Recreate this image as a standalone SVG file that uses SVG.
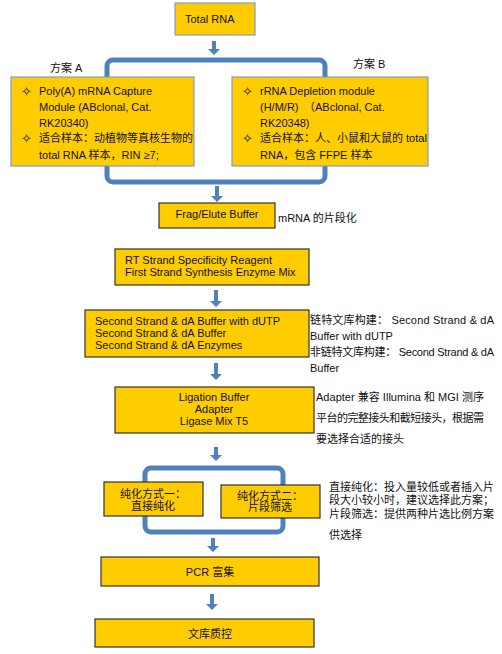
<svg xmlns="http://www.w3.org/2000/svg" width="502" height="654" viewBox="0 0 502 654">
<style>
text{font-family:"Liberation Sans","Noto Sans CJK SC",sans-serif;font-size:11px;fill:#111;}
.box{fill:#FFCC00;stroke:#333;stroke-width:1.2;}
.boxb{fill:#FFCC00;stroke:#7F9DC4;stroke-width:1.2;}
.br{fill:none;stroke:#4F81BD;stroke-width:5;}
.ar{fill:#4F81BD;}
.c{text-anchor:middle;}
.d{font-family:"DejaVu Sans",sans-serif;font-size:13px;}
</style>
<g id="connectors">
<rect class="br" x="107" y="60" width="218" height="122" rx="6"/>
<rect class="br" x="145" y="468" width="138" height="64" rx="6"/>
<path class="ar" d="M212,41 H216 V49 H220 L214,55 L208,49 H212 Z"/>
<path class="ar" d="M215,186 H219 V196 H223 L217,202 L211,196 H215 Z"/>
<path class="ar" d="M214,290 H218 V301 H222 L216,307 L210,301 H214 Z"/>
<path class="ar" d="M214,363 H218 V374 H222 L216,380 L210,374 H214 Z"/>
<path class="ar" d="M214,447 H218 V455 H222 L216,461 L210,455 H214 Z"/>
<path class="ar" d="M211,538 H215 V546 H219 L213,552 L207,546 H211 Z"/>
<path class="ar" d="M210,594 H214 V604 H218 L212,610 L206,604 H210 Z"/>
</g>
<g id="total-rna">
<rect class="boxb" x="175" y="3" width="80" height="32"/>
<text x="185" y="23">Total RNA</text>
</g>
<g id="label-a"><text x="50" y="72">方案 A</text></g>
<g id="label-b"><text x="353" y="68">方案 B</text></g>
<g id="plan-a">
<rect class="boxb" x="11" y="77" width="183" height="89"/>
<text class="d" x="21" y="96">✧</text>
<text x="39" y="95">Poly(A) mRNA Capture</text>
<text x="39" y="111">Module (ABclonal, Cat.</text>
<text x="39" y="127">RK20340)</text>
<text class="d" x="21" y="143">✧</text>
<text x="39" y="142">适合样本：动植物等真核生物的</text>
<text x="39" y="159">total RNA 样本，RIN  ≥7;</text>
</g>
<g id="plan-b">
<rect class="boxb" x="232" y="77" width="196" height="89"/>
<text class="d" x="242" y="96">✧</text>
<text x="260" y="95">rRNA Depletion module</text>
<text x="260" y="111">(H/M/R)　（ABclonal, Cat.</text>
<text x="260" y="127">RK20348)</text>
<text class="d" x="242" y="143">✧</text>
<text x="260" y="142">适合样本：人、小鼠和大鼠的 total</text>
<text x="260" y="159">RNA，包含 FFPE 样本</text>
</g>
<g id="frag">
<rect class="box" x="159" y="203" width="116" height="25"/>
<text class="c" x="217" y="218">Frag/Elute Buffer</text>
</g>
<g id="frag-note"><text x="278" y="222" font-size="10">mRNA 的片段化</text></g>
<g id="rt">
<rect class="box" x="115" y="249" width="194" height="36"/>
<text x="125" y="264">RT Strand Specificity Reagent</text>
<text x="125" y="276">First Strand Synthesis Enzyme Mix</text>
</g>
<g id="second">
<rect class="box" x="85" y="310" width="224" height="47"/>
<text x="95" y="325">Second Strand &amp; dA Buffer with dUTP</text>
<text x="95" y="337">Second Strand &amp; dA Buffer</text>
<text x="95" y="349">Second Strand &amp; dA Enzymes</text>
</g>
<g id="second-note">
<text x="310" y="324" font-size="10" textLength="184" lengthAdjust="spacing">链特文库构建： Second Strand &amp; dA</text>
<text x="310" y="340" font-size="10">Buffer with dUTP</text>
<text x="310" y="356" font-size="10" textLength="184" lengthAdjust="spacing">非链特文库构建： Second Strand &amp; dA</text>
<text x="310" y="372" font-size="10">Buffer</text>
</g>
<g id="ligation">
<rect class="box" x="115" y="387" width="199" height="46"/>
<text class="c" x="214" y="401">Ligation Buffer</text>
<text class="c" x="214" y="413">Adapter</text>
<text class="c" x="214" y="425">Ligase Mix T5</text>
</g>
<g id="ligation-note">
<text x="316" y="401" font-size="10" textLength="168" lengthAdjust="spacing">Adapter 兼容 Illumina 和 MGI 测序</text>
<text x="316" y="422" font-size="10" textLength="168" lengthAdjust="spacing">平台的完整接头和截短接头，根据需</text>
<text x="316" y="443" font-size="10">要选择合适的接头</text>
</g>
<g id="purify-1">
<rect class="box" x="104" y="482" width="99" height="34"/>
<text class="c" x="153" y="498">纯化方式一：</text>
<text class="c" x="153" y="510">直接纯化</text>
</g>
<g id="purify-2">
<rect class="box" x="221" y="485" width="99" height="33"/>
<text class="c" x="270" y="500">纯化方式二：</text>
<text class="c" x="270" y="511">片段筛选</text>
</g>
<g id="purify-note">
<text x="329" y="491" font-size="10" textLength="165" lengthAdjust="spacing">直接纯化：投入量较低或者插入片</text>
<text x="329" y="504" font-size="10" textLength="165" lengthAdjust="spacing">段大小较小时，建议选择此方案；</text>
<text x="329" y="518" font-size="10" textLength="165" lengthAdjust="spacing">片段筛选：提供两种片选比例方案</text>
<text x="329" y="539" font-size="10">供选择</text>
</g>
<g id="pcr">
<rect class="box" x="101" y="557" width="218" height="29"/>
<text class="c" x="210" y="576">PCR  富集</text>
</g>
<g id="qc">
<rect class="box" x="95" y="619" width="219" height="28"/>
<text class="c" x="210" y="638">文库质控</text>
</g>
</svg>
